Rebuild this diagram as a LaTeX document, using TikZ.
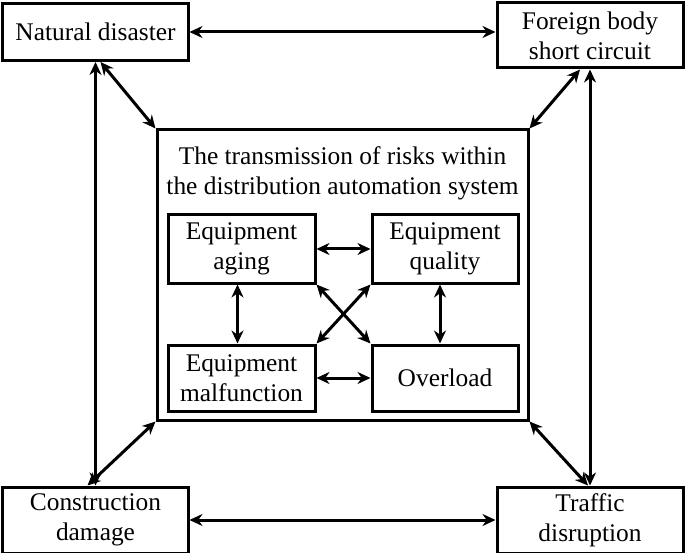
\documentclass[tikz,border=0pt]{standalone}
\usepackage{fontspec}
\setmainfont{Liberation Serif}
\usetikzlibrary{arrows.meta}
\begin{document}
\begin{tikzpicture}[x=1bp,y=-1bp, font=\fontsize{25.5}{30}\selectfont,
  box/.style={draw, line width=3bp, align=center, inner sep=0pt},
  link/.style={{Stealth[length=13bp,width=12bp]}-{Stealth[length=13bp,width=12bp]}, line width=3bp}]
  \useasboundingbox (0,0) rectangle (685,553);
  % outer risks
  \node[box, minimum width=185bp, minimum height=57bp] (nat) at (95.5,32) {Natural disaster};
  \node[box, minimum width=186bp, minimum height=65bp] (for) at (590,35.5) {Foreign body\\short circuit};
  \node[box, minimum width=185bp, minimum height=66bp] (con) at (95.5,520) {Construction\\damage};
  \node[box, minimum width=186bp, minimum height=66bp] (tra) at (590,520) {Traffic\\disruption};
  % inner system
  \node[box, minimum width=371bp, minimum height=290bp] (sys) at (342.5,275) {};
  \node[align=center] (title) at (342.5,173) {The transmission of risks within\\the distribution automation system};
  \node[box, minimum width=147bp, minimum height=68bp] (age) at (241.5,249) {Equipment\\aging};
  \node[box, minimum width=146bp, minimum height=68bp] (qua) at (445,249) {Equipment\\quality};
  \node[box, minimum width=147bp, minimum height=66bp] (mal) at (241.5,378) {Equipment\\malfunction};
  \node[box, minimum width=146bp, minimum height=66bp] (ove) at (445,378) {Overload};
  % outer links
  \draw[link] (nat.east) -- (nat.east -| for.west);
  \draw[link] (con.east) -- (tra.west);
  \draw[link] (nat.south) -- (con.north);
  \draw[link] (for.south) -- (tra.north);
  \draw[link] ([xshift=5bp]nat.south) -- (sys.north west);
  \draw[link] ([xshift=-10bp]for.south) -- (sys.north east);
  \draw[link] ([xshift=-8bp]con.north) -- (sys.south west);
  \draw[link] ([xshift=-2bp]tra.north) -- (sys.south east);
  % inner links
  \draw[link] (age.east) -- (qua.west);
  \draw[link] (mal.east) -- (ove.west);
  \draw[link] ([xshift=-4bp]age.south) -- ([xshift=-4bp]mal.north);
  \draw[link] ([xshift=-5bp]qua.south) -- ([xshift=-5bp]ove.north);
  \draw[link] (age.south east) -- (ove.north west);
  \draw[link] (qua.south west) -- (mal.north east);
\end{tikzpicture}
\end{document}
